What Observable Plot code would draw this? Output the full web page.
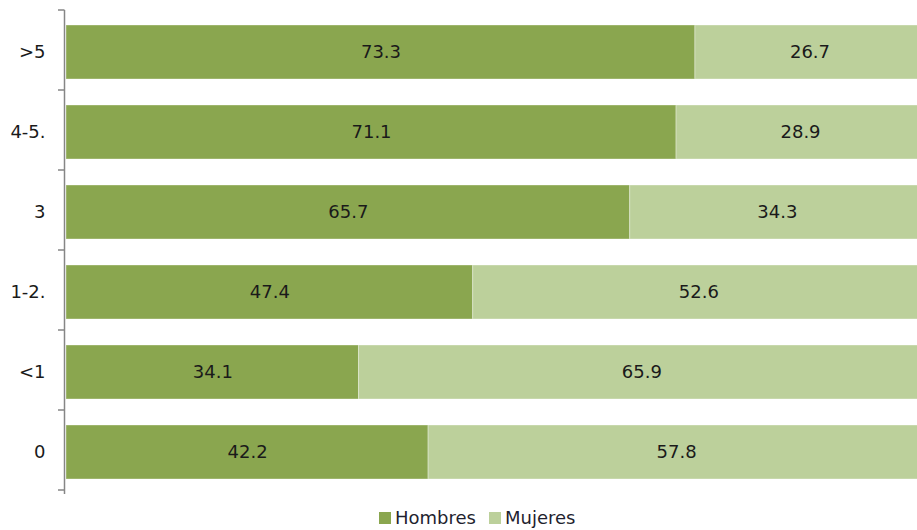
<!DOCTYPE html>
<html>
<head>
<meta charset="utf-8">
<script src="https://cdn.jsdelivr.net/npm/d3@7"></script>
<script src="https://cdn.jsdelivr.net/npm/@observablehq/plot@0.6"></script>
<style>
  html, body { margin: 0; padding: 0; background: #fff; overflow: hidden; }
  #chart svg { overflow: hidden; }
  .legend { height: 25px; display: flex; align-items: center; padding-left: 379px; font-family: "DejaVu Sans", Verdana, sans-serif; font-size: 18px; color: #1f1f2f; }
  .sw { display: inline-block; width: 12px; height: 12px; margin-right: 4px; }
  .item { display: flex; align-items: center; margin-right: 13px; }
</style>
</head>
<body>
<div id="chart"></div>
<script>
const categories = [">5", "4-5.", "3", "1-2.", "<1", "0"];
const hombres = [73.3, 71.1, 65.7, 47.4, 34.1, 42.2];
const mujeres = [26.7, 28.9, 34.3, 52.6, 65.9, 57.8];
const series = ["Hombres", "Mujeres"];
const colors = ["#8aa64f", "#bcd09b"];

const data = [];
categories.forEach((c, i) => {
  data.push({cat: c, sex: "Hombres", value: hombres[i]});
  data.push({cat: c, sex: "Mujeres", value: mujeres[i]});
});

const font = "DejaVu Sans, Verdana, sans-serif";
const chart = Plot.plot({
  width: 917,
  height: 505,
  marginTop: 10,
  marginBottom: 11,
  marginLeft: 66,
  marginRight: 0,
  style: {fontFamily: font, fontSize: "18px", color: "#1a1a1a", background: "#fff"},
  x: {domain: [0, 100], range: [66, 924], axis: null},
  y: {domain: categories, paddingInner: 0.32, paddingOuter: 0.16, align: 0.5, label: null},
  color: {domain: series, range: colors},
  marks: [
    Plot.barX(data, Plot.stackX({x: "value", y: "cat", fill: "sex", z: "sex", stroke: "#ffffff", strokeOpacity: 0.35, strokeWidth: 1})),
    Plot.text(data, Plot.stackX({x: "value", y: "cat", z: "sex", text: d => d.value.toFixed(1), fill: "#1a1a1a", fontSize: 18})),
    Plot.axisY({tickSize: 0, tickPadding: 21, fontSize: 18, fill: "#1a1a1a", label: null})
  ]
});

// y axis line and category boundary ticks from the band scale
const ys = chart.scale("y");
const step = ys.step;
const [r0, r1] = [ys.range[0], ys.range[1]];
const svg = d3.select(chart);
const g = svg.append("g").attr("stroke", "#868686").attr("stroke-width", 1.5);
g.append("line").attr("x1", 64.5).attr("x2", 64.5).attr("y1", r0).attr("y2", r1);
for (let k = 0; k <= categories.length; k++) {
  const y = r0 + k * step;
  g.append("line").attr("x1", 58).attr("x2", 64.5).attr("y1", y).attr("y2", y);
}

document.getElementById("chart").appendChild(chart);

const legend = document.createElement("div");
legend.className = "legend";
series.forEach((s, i) => {
  const item = document.createElement("span");
  item.className = "item";
  const sw = document.createElement("span");
  sw.className = "sw";
  sw.style.background = colors[i];
  item.appendChild(sw);
  item.appendChild(document.createTextNode(s));
  legend.appendChild(item);
});
document.getElementById("chart").appendChild(legend);
</script>
</body>
</html>
